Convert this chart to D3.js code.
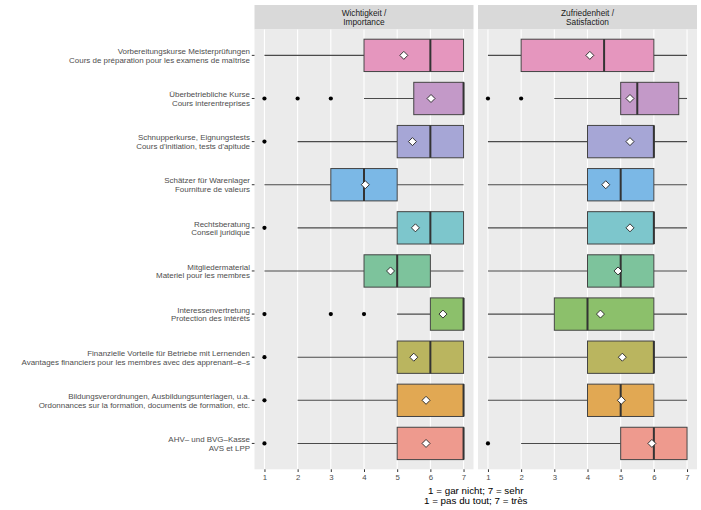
<!DOCTYPE html>
<html>
<head>
<meta charset="utf-8">
<script src="https://cdn.jsdelivr.net/npm/d3@7/dist/d3.min.js"></script>
<style>
  html, body { margin: 0; padding: 0; background: #ffffff; }
  svg { display: block; font-family: "Liberation Sans", Arial, sans-serif; }
</style>
</head>
<body>
<svg id="chart" width="701" height="510"></svg>
<script>
// ---------- data (top to bottom) ----------
const categoriesDE = [
  "Vorbereitungskurse Meisterprüfungen",
  "Überbetriebliche Kurse",
  "Schnupperkurse, Eignungstests",
  "Schätzer für Warenlager",
  "Rechtsberatung",
  "Mitgliedermaterial",
  "Interessenvertretung",
  "Finanzielle Vorteile für Betriebe mit Lernenden",
  "Bildungsverordnungen, Ausbildungsunterlagen, u.a.",
  "AHV– und BVG–Kasse"
];
const categoriesFR = [
  "Cours de préparation pour les examens de maîtrise",
  "Cours interentreprises",
  "Cours d'initiation, tests d'apitude",
  "Fourniture de valeurs",
  "Conseil juridique",
  "Materiel pour les membres",
  "Protection des intérêts",
  "Avantages financiers pour les membres avec des apprenant–e–s",
  "Ordonnances sur la formation, documents de formation, etc.",
  "AVS et LPP"
];
const fillColors = ["#E596BE","#C399C8","#A6A6D6","#7BB8E6","#7DC6CC","#7DC39C","#8CC06B","#BAB55F","#E1A853","#EE9A8E"];

const panelTitles = [["Wichtigkeit /", "Importance"], ["Zufriedenheit /", "Satisfaction"]];

// Importance (Wichtigkeit)
const impLow    = [1, 4,   2, 1, 2, 1, 5, 2, 2, 2];
const impQ1     = [4, 5.5, 5, 3, 5, 4, 6, 5, 5, 5];
const impMedian = [6, 7,   6, 4, 6, 5, 7, 6, 7, 7];
const impQ3     = [7, 7,   7, 5, 7, 6, 7, 7, 7, 7];
const impHigh   = [7, 7,   7, 7, 7, 7, 7, 7, 7, 7];
const impMean   = [5.2, 6.02, 5.46, 4.04, 5.55, 4.8, 6.38, 5.5, 5.87, 5.87];
const impOutliers = [[], [1,2,3], [1], [], [1], [], [1,3,4], [1], [1], [1]];

// Satisfaction (Zufriedenheit)
const satLow    = [1, 3,    1, 1, 1, 1, 1, 1, 1, 2];
const satQ1     = [2, 5,    4, 4, 4, 4, 3, 4, 4, 5];
const satMedian = [4.5, 5.5, 6, 5, 6, 5, 4, 6, 5, 6];
const satQ3     = [6, 6.75, 6, 6, 6, 6, 6, 6, 6, 7];
const satHigh   = [7, 7,    7, 7, 7, 7, 7, 7, 7, 7];
const satMean   = [4.07, 5.28, 5.28, 4.55, 5.28, 4.92, 4.39, 5.05, 5.02, 5.94];
const satOutliers = [[], [1,2], [], [], [], [], [], [], [], [1]];

const xTicks = [1, 2, 3, 4, 5, 6, 7];
const axisTitle = ["1 = gar nicht; 7 = sehr", "1 = pas du tout; 7 = très"];

// ---------- build ----------
const panels = [
  {low: impLow, q1: impQ1, med: impMedian, q3: impQ3, high: impHigh, mean: impMean, out: impOutliers, x0: 254.5, x1: 473.5},
  {low: satLow, q1: satQ1, med: satMedian, q3: satQ3, high: satHigh, mean: satMean, out: satOutliers, x0: 478, x1: 697}
];

const svg = d3.select("#chart");
const panelTop = 29.5, panelBottom = 469.3, stripTop = 5;

const y = d3.scalePoint().domain(d3.range(categoriesDE.length)).range([panelTop, panelBottom]).padding(0.6);
const step = y.step();
const boxH = step * 0.75;

panels.forEach((p, pi) => {
  const x = d3.scaleLinear().domain([0.7, 7.3]).range([p.x0, p.x1]);
  const g = svg.append("g");

  // strip
  g.append("rect").attr("x", p.x0).attr("y", stripTop).attr("width", p.x1 - p.x0).attr("height", panelTop - stripTop).attr("fill", "#D9D9D9");
  g.append("text").attr("x", (p.x0 + p.x1) / 2).attr("y", 16.3).attr("text-anchor", "middle")
    .attr("font-size", 8.3).attr("fill", "#1A1A1A").text(panelTitles[pi][0]);
  g.append("text").attr("x", (p.x0 + p.x1) / 2).attr("y", 25.3).attr("text-anchor", "middle")
    .attr("font-size", 8.3).attr("fill", "#1A1A1A").text(panelTitles[pi][1]);

  // panel background
  g.append("rect").attr("x", p.x0).attr("y", panelTop).attr("width", p.x1 - p.x0).attr("height", panelBottom - panelTop).attr("fill", "#EBEBEB");

  // grid
  g.selectAll(".grid").data(xTicks).enter().append("line")
    .attr("x1", d => x(d)).attr("x2", d => x(d)).attr("y1", panelTop).attr("y2", panelBottom)
    .attr("stroke", "#FFFFFF").attr("stroke-width", 1.1);

  // x axis
  const ax = g.append("g").attr("transform", `translate(0,${panelBottom})`)
    .call(d3.axisBottom(x).tickValues(xTicks).tickSize(2.7).tickPadding(2).tickFormat(d3.format("d")));
  ax.select(".domain").remove();
  ax.selectAll(".tick line").attr("stroke", "#333333").attr("stroke-width", 1);
  ax.selectAll(".tick text").attr("fill", "#4D4D4D").attr("font-size", 7.8).attr("font-family", "Liberation Sans, Arial, sans-serif");

  const idx = d3.range(categoriesDE.length);
  // whiskers
  g.selectAll(".wl").data(idx).enter().append("line")
    .attr("x1", i => x(p.low[i])).attr("x2", i => x(p.q1[i]))
    .attr("y1", i => y(i)).attr("y2", i => y(i)).attr("stroke", "#4A4A4A").attr("stroke-width", 1.1);
  g.selectAll(".wh").data(idx).enter().append("line")
    .attr("x1", i => x(p.q3[i])).attr("x2", i => x(p.high[i]))
    .attr("y1", i => y(i)).attr("y2", i => y(i)).attr("stroke", "#4A4A4A").attr("stroke-width", 1.1);
  // boxes
  g.selectAll(".box").data(idx).enter().append("rect")
    .attr("x", i => x(p.q1[i])).attr("width", i => x(p.q3[i]) - x(p.q1[i]))
    .attr("y", i => y(i) - boxH / 2).attr("height", boxH)
    .attr("fill", i => fillColors[i]).attr("stroke", "#444444").attr("stroke-width", 1);
  // median
  g.selectAll(".med").data(idx).enter().append("line")
    .attr("x1", i => x(p.med[i])).attr("x2", i => x(p.med[i]))
    .attr("y1", i => y(i) - boxH / 2).attr("y2", i => y(i) + boxH / 2)
    .attr("stroke", "#333333").attr("stroke-width", 2);
  // outliers
  const outs = [];
  idx.forEach(i => p.out[i].forEach(v => outs.push({i, v})));
  g.selectAll(".out").data(outs).enter().append("circle")
    .attr("cx", d => x(d.v)).attr("cy", d => y(d.i)).attr("r", 2.1).attr("fill", "#000000");
  // means
  const dsz = 4;
  g.selectAll(".mean").data(idx).enter().append("path")
    .attr("d", i => {
      const cx = x(p.mean[i]), cy = y(i);
      return `M${cx},${cy - dsz}L${cx + dsz},${cy}L${cx},${cy + dsz}L${cx - dsz},${cy}Z`;
    })
    .attr("fill", "#FFFFFF").attr("stroke", "#222222").attr("stroke-width", 0.9);
});

// y axis labels
const ya = svg.append("g");
d3.range(categoriesDE.length).forEach(i => {
  const cy = y(i);
  ya.append("line").attr("x1", 251.8).attr("x2", 254.5).attr("y1", cy).attr("y2", cy).attr("stroke", "#333333").attr("stroke-width", 1);
  ya.append("text").attr("x", 250).attr("y", cy - 1.3).attr("text-anchor", "end")
    .attr("font-size", 7.95).attr("fill", "#4D4D4D").text(categoriesDE[i]);
  ya.append("text").attr("x", 250).attr("y", cy + 7.4).attr("text-anchor", "end")
    .attr("font-size", 7.95).attr("fill", "#4D4D4D").text(categoriesFR[i]);
});

// axis title
const tcx = (panels[0].x0 + panels[1].x1) / 2;
svg.append("text").attr("x", tcx).attr("y", 493.5).attr("text-anchor", "middle").attr("font-size", 9.8).attr("fill", "#000").text(axisTitle[0]);
svg.append("text").attr("x", tcx).attr("y", 504).attr("text-anchor", "middle").attr("font-size", 9.8).attr("fill", "#000").text(axisTitle[1]);
</script>
</body>
</html>
